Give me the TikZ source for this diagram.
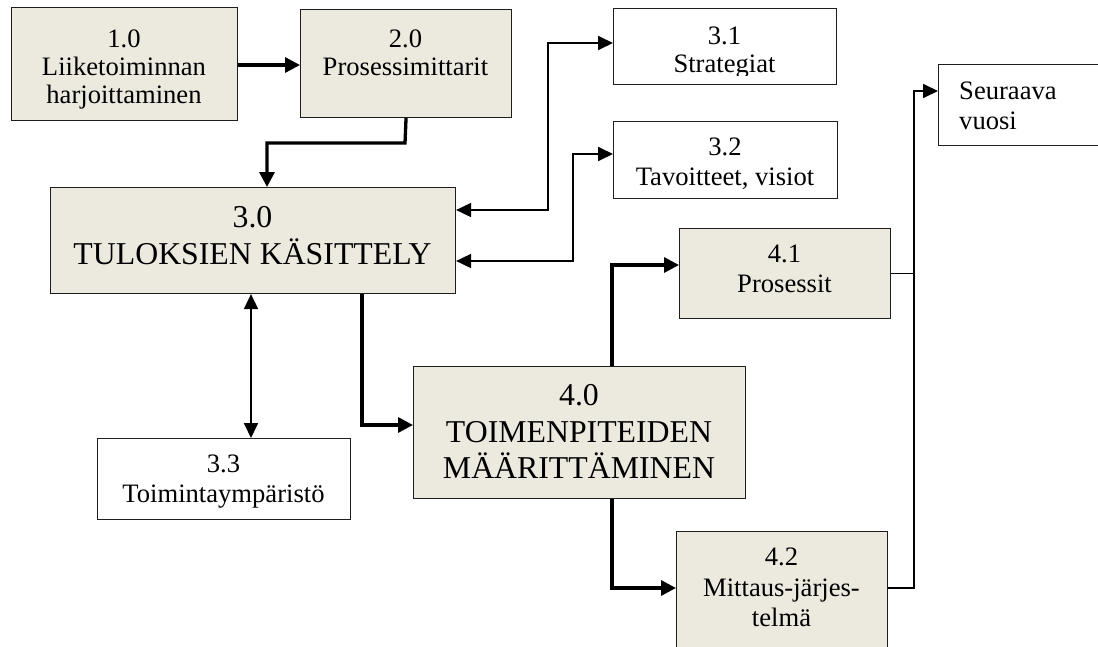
\documentclass[tikz,border=0pt]{standalone}
\usepackage{fontspec}
\setmainfont{Liberation Serif}
\usetikzlibrary{arrows.meta}
\definecolor{boxfill}{HTML}{ECE9DF}
\definecolor{boxline}{HTML}{1E1E1E}
\begin{document}
\begin{tikzpicture}[x=1pt,y=-1pt,
  procbox/.style={draw=boxline,line width=1.1pt,fill=boxfill,inner sep=0pt,anchor=north west},
  plainbox/.style={draw=boxline,line width=1.1pt,fill=white,inner sep=0pt,anchor=north west},
  smalltext/.style={inner sep=0pt,anchor=north,align=center,font=\fontsize{26.6}{30}\selectfont},
  bigtext/.style={inner sep=0pt,anchor=north,align=center,font=\fontsize{31.8}{36.5}\selectfont},
  thickline/.style={line width=3.3pt,-{Triangle[length=15pt,width=15pt]}},
  thinline/.style={line width=1.8pt,{Triangle[length=15pt,width=14pt]}-{Triangle[length=15pt,width=14pt]}},
  thinplain/.style={line width=1.8pt}]
\useasboundingbox (0,0) rectangle (1098,646);

% boxes
\node[procbox,minimum width=226,minimum height=113] (b10) at (11,7) {};
\node[procbox,minimum width=211,minimum height=108] (b20) at (300,9) {};
\node[plainbox,minimum width=223,minimum height=76] (b31) at (613,8) {};
\node[plainbox,minimum width=224,minimum height=77] (b32) at (613,121) {};
\node[plainbox,minimum width=164,minimum height=81] (bsv) at (938,64) {};
\node[procbox,minimum width=405,minimum height=106] (b30) at (50,187) {};
\node[procbox,minimum width=211,minimum height=90] (b41) at (679,228) {};
\node[procbox,minimum width=332,minimum height=132] (b40) at (413,366) {};
\node[plainbox,minimum width=253,minimum height=81] (b33) at (97,438) {};
\node[procbox,minimum width=211,minimum height=122] (b42) at (676,531) {};

% box texts
\node[smalltext,font=\fontsize{26.6}{28}\selectfont] (t10) at (124,30) {1.0\\Liiketoiminnan\\harjoittaminen};
\node[smalltext,font=\fontsize{26.6}{28}\selectfont] (t20) at (405.5,30) {2.0\\Prosessimittarit};
\begin{scope}
  \clip (613,0) rectangle (836,75);
  \node[smalltext,font=\fontsize{26.6}{28}\selectfont] (t31) at (724.5,27) {3.1\\Strategiat};
\end{scope}
\begin{scope}
  \clip (613,121) rectangle (837,188);
  \node[smalltext] (t32) at (725,138) {3.2\\Tavoitteet, visiot};
\end{scope}
\node[smalltext,anchor=north west,align=left] (tsv) at (959,82) {Seuraava\\vuosi};
\node[bigtext,font=\fontsize{31.8}{37}\selectfont] (t30) at (252.5,206.5) {3.0\\TULOKSIEN KÄSITTELY};
\node[smalltext] (t41) at (784.5,245) {4.1\\Prosessit};
\node[bigtext] (t40) at (579,384.5) {4.0\\TOIMENPITEIDEN\\MÄÄRITTÄMINEN};
\node[smalltext] (t33) at (223.5,455) {3.3\\Toimintaympäristö};
\node[smalltext,font=\fontsize{26.6}{30.5}\selectfont] (t42) at (781.5,548) {4.2\\Mittaus-järjes-\\telmä};

% main flow
\draw[thickline] (b10.east |- 0,65) -- (b20.west |- 0,65);
\draw[thickline] (b20.south) -- (405,143) -- (267,143) -- (b30.north -| 267,0);
\draw[thickline] (b30.south -| 362,0) |- (b40.west |- 0,425);
\draw[thickline] (b40.north -| 612,0) |- (b41.west |- 0,265);
\draw[thickline] (b40.south -| 612,0) |- (b42.west |- 0,588);

% two-way links of 3.0
\draw[thinline] (b30.east |- 0,210) -| (548,43) -- (b31.west |- 0,43);
\draw[thinline] (b30.east |- 0,261) -| (573,154) -- (b32.west |- 0,154);
\draw[thinline] (b30.south -| 251,0) -- (b33.north -| 251,0);

% next year
\draw[thinplain,-{Triangle[length=15pt,width=14pt]}] (b41.east) -| (914,91) -- (bsv.west |- 0,91);
\draw[thinplain] (b42.east |- 0,588) -| (914,273);
\end{tikzpicture}
\end{document}
